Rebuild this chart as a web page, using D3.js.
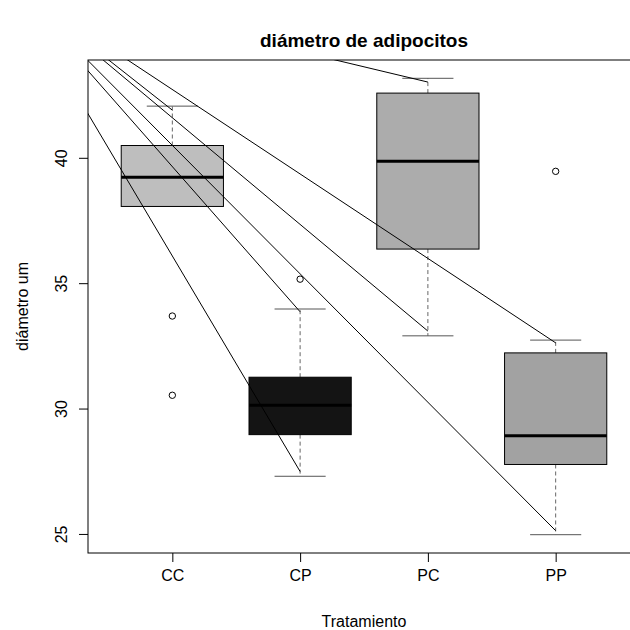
<!DOCTYPE html>
<html>
<head>
<meta charset="utf-8">
<script src="https://cdn.jsdelivr.net/npm/d3@7"></script>
<style>
  body { margin: 0; background: #fff; }
  text { font-family: "Liberation Sans", Arial, sans-serif; }
</style>
</head>
<body>
<div class="chart"></div>
<script>
// box stats
const groups = ["CC", "CP", "PC", "PP"];
const whiskerLow  = [38.06, 27.30, 32.90, 24.97];
const q1          = [38.06, 28.96, 36.36, 27.77];
const medians     = [39.22, 30.13, 39.86, 28.92];
const q3          = [40.49, 31.25, 42.58, 32.22];
const whiskerHigh = [42.06, 33.97, 43.17, 32.73];
const outliers = [
    {g: "CC", v: 33.69},
    {g: "CC", v: 30.53},
    {g: "CP", v: 35.16},
    {g: "PP", v: 39.46}
];
// straight lines drawn over the boxes, all from one point up-left
const lineOrigin = {x: -0.27, y: 47.0};
const lineEnds = [
    {g: "CC", v: 41.9},
    {g: "CP", v: 33.86},
    {g: "CP", v: 27.49},
    {g: "PC", v: 43.02},
    {g: "PC", v: 33.09},
    {g: "PP", v: 32.62},
    {g: "PP", v: 25.13}
];
const yTicks = [25, 30, 35, 40];
const fills = ["#bebebe", "#141414", "#acacac", "#a2a2a2"];

const width = 630, height = 630;
const plot = {left: 88, right: 640, top: 60, bottom: 553};

const svg = d3.select(".chart")
    .append("svg")
    .attr("width", width)
    .attr("height", height);

const x = d3.scaleLinear().domain([0.34, 4.66]).range([plot.left, plot.right]);
const y = d3.scaleLinear().domain([24.24, 43.9]).range([plot.bottom, plot.top]);
const gx = g => x(groups.indexOf(g) + 1);

const boxes = groups.map((g, i) => ({
    g, lo: whiskerLow[i], q1: q1[i], med: medians[i], q3: q3[i], hi: whiskerHigh[i], fill: fills[i]
}));

const bw = 0.4, cw = 0.2;

// whiskers (dashed)
svg.append("g").selectAll("line")
    .data(boxes.flatMap(d => [[d, d.q3, d.hi], [d, d.q1, d.lo]]).filter(a => a[1] !== a[2]))
    .join("line")
    .attr("x1", a => gx(a[0].g)).attr("x2", a => gx(a[0].g))
    .attr("y1", a => y(a[1])).attr("y2", a => y(a[2]))
    .attr("stroke", "#666")
    .attr("stroke-dasharray", "4,3");

// caps
svg.append("g").selectAll("line")
    .data(boxes.flatMap(d => [[d, d.hi], [d, d.lo]]))
    .join("line")
    .attr("x1", a => x(groups.indexOf(a[0].g) + 1 - cw))
    .attr("x2", a => x(groups.indexOf(a[0].g) + 1 + cw))
    .attr("y1", a => y(a[1])).attr("y2", a => y(a[1]))
    .attr("stroke", "#555");

// boxes
svg.append("g").selectAll("rect")
    .data(boxes)
    .join("rect")
    .attr("x", d => x(groups.indexOf(d.g) + 1 - bw))
    .attr("width", d => x(1 + bw) - x(1 - bw))
    .attr("y", d => y(d.q3))
    .attr("height", d => y(d.q1) - y(d.q3))
    .attr("fill", d => d.fill)
    .attr("stroke", "#000");

// medians
svg.append("g").selectAll("line")
    .data(boxes)
    .join("line")
    .attr("x1", d => x(groups.indexOf(d.g) + 1 - bw))
    .attr("x2", d => x(groups.indexOf(d.g) + 1 + bw))
    .attr("y1", d => y(d.med)).attr("y2", d => y(d.med))
    .attr("stroke", "#000")
    .attr("stroke-width", 3);

// outliers
svg.append("g").selectAll("circle")
    .data(outliers)
    .join("circle")
    .attr("cx", d => gx(d.g))
    .attr("cy", d => y(d.v))
    .attr("r", 3.2)
    .attr("fill", "none")
    .attr("stroke", "#000");

// lines, clipped to the plot region
svg.append("clipPath").attr("id", "clip")
    .append("rect")
    .attr("x", plot.left).attr("y", plot.top)
    .attr("width", plot.right - plot.left).attr("height", plot.bottom - plot.top);

svg.append("g")
    .attr("clip-path", "url(#clip)")
    .selectAll("line")
    .data(lineEnds)
    .join("line")
    .attr("x1", x(lineOrigin.x)).attr("y1", y(lineOrigin.y))
    .attr("x2", d => gx(d.g)).attr("y2", d => y(d.v))
    .attr("stroke", "#000");

// frame
svg.append("rect")
    .attr("x", plot.left).attr("y", plot.top)
    .attr("width", plot.right - plot.left).attr("height", plot.bottom - plot.top)
    .attr("fill", "none")
    .attr("stroke", "#000");

// x axis
const xAxis = svg.append("g")
    .attr("transform", `translate(0,${plot.bottom})`)
    .call(d3.axisBottom(x).tickValues([1, 2, 3, 4]).tickFormat(d => groups[d - 1]).tickSize(9).tickPadding(8));
xAxis.select(".domain").remove();
xAxis.selectAll("text").attr("font-size", 16).attr("fill", "#000");

// y axis
const yAxis = svg.append("g")
    .attr("transform", `translate(${plot.left},0)`)
    .call(d3.axisLeft(y).tickValues(yTicks).tickSize(9));
yAxis.select(".domain").remove();
yAxis.selectAll("text")
    .attr("font-size", 16).attr("fill", "#000")
    .attr("x", null).attr("dy", null)
    .attr("text-anchor", "middle")
    .attr("transform", "translate(-21,0) rotate(-90)");

// titles
svg.append("text")
    .attr("x", (plot.left + plot.right) / 2).attr("y", 47)
    .attr("text-anchor", "middle")
    .attr("font-size", 19).attr("font-weight", "bold")
    .text("diámetro de adipocitos");

svg.append("text")
    .attr("x", (plot.left + plot.right) / 2).attr("y", 627)
    .attr("text-anchor", "middle")
    .attr("font-size", 16)
    .text("Tratamiento");

svg.append("text")
    .attr("transform", `translate(28,${(plot.top + plot.bottom) / 2}) rotate(-90)`)
    .attr("text-anchor", "middle")
    .attr("font-size", 16)
    .text("diámetro um");
</script>
</body>
</html>
